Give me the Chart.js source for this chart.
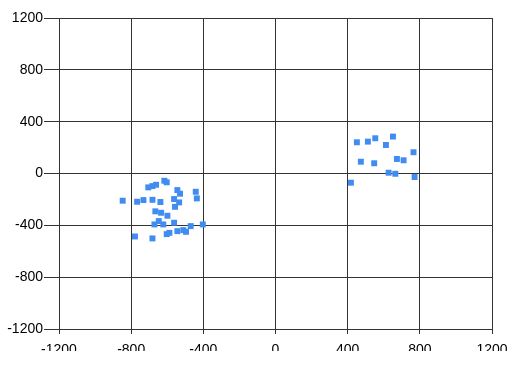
<!DOCTYPE html>
<html>
<head>
<meta charset="utf-8">
<script src="https://cdn.jsdelivr.net/npm/chart.js@4.4.0/dist/chart.umd.min.js"></script>
<style>
  html, body { margin: 0; padding: 0; background: #fff; }
  #wrap { width: 520px; height: 351px; }
</style>
</head>
<body>
<div id="wrap"><canvas id="myChart" width="520" height="351"></canvas></div>
<script>
// points (left cluster, then right cluster)
var xValues = [-847, -767, -732, -682, -638, -705, -682, -662, -616, -603,
  -544, -529, -442, -436, -562, -534, -557, -666, -634, -599,
  -647, -671, -622, -562, -470, -403, -779, -682, -603, -588,
  -544, -511, -496,
  451, 512, 553, 612, 651, 765, 473, 547, 673, 710, 627, 664, 771, 418];
var yValues = [-210, -218, -205, -203, -220, -107, -97, -87, -56, -68,
  -128, -156, -141, -192, -197, -223, -257, -292, -303, -326,
  -367, -393, -393, -380, -406, -393, -486, -501, -468, -458,
  -445, -437, -450,
  241, 246, 272, 220, 285, 164, 91, 79, 112, 102, 6, -2, -27, -71];

var axisMin = -1200
var axisMax = 1200
var axisStep = 400

var pts = [];
for (var i = 0; i < xValues.length; i++) {
  pts.push({x: xValues[i], y: yValues[i]});
}

var lineCol = '#333333';
var tickFont = {family: 'Liberation Sans', size: 14};

function plainNum(v) { return String(v); }

const ctx = document.getElementById('myChart');

new Chart(ctx, {
  type: 'scatter',
  data: {
    datasets: [{
      data: pts,
      pointStyle: 'rect',
      pointRadius: 4.2,
      backgroundColor: '#418CF0',
      borderColor: '#418CF0',
      borderWidth: 0
    }]
  },
  options: {
    responsive: false,
    animation: false,
    layout: { padding: { left: 0, top: 18, right: 28, bottom: 0 } },
    plugins: { legend: { display: false }, tooltip: { enabled: false } },
    scales: {
      x: {
        type: 'linear',
        min: axisMin, max: axisMax,
        ticks: { stepSize: axisStep, color: '#000', font: tickFont, padding: 8, maxRotation: 0, callback: plainNum },
        grid: { color: lineCol, lineWidth: 1, tickLength: 5, tickColor: lineCol },
        border: { color: lineCol },
        afterFit: function (scale) { scale.height = 22; }
      },
      y: {
        type: 'linear',
        min: axisMin, max: axisMax,
        ticks: { stepSize: axisStep, color: '#000', font: tickFont, padding: 1, callback: plainNum },
        grid: { color: lineCol, lineWidth: 1, tickLength: 15, tickColor: lineCol },
        border: { color: lineCol },
        afterFit: function (scale) { scale.width = 59; }
      }
    }
  }
});
</script>
</body>
</html>
